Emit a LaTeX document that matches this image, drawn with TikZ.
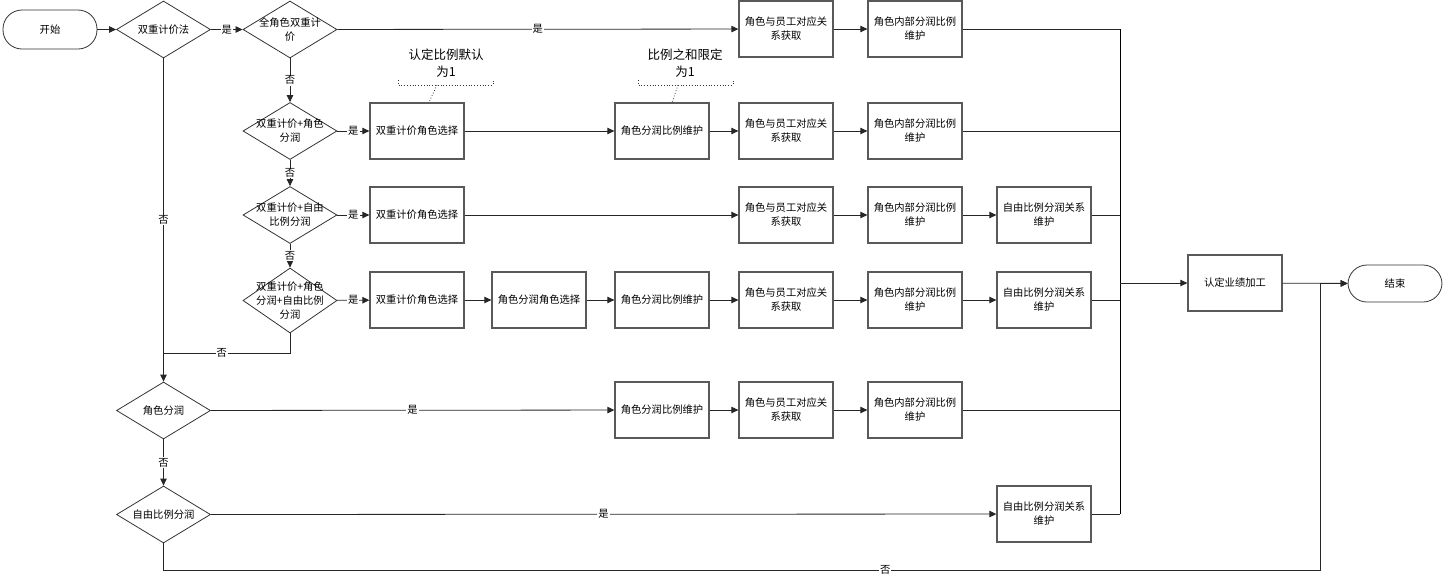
\documentclass[tikz,border=0pt]{standalone}
\usepackage{fontspec}
\setmainfont{Noto Sans CJK SC}
\usetikzlibrary{shapes.geometric,arrows.meta,calc}
\begin{document}
\begin{tikzpicture}[x=1pt,y=-1pt,
  every node/.style={font=\fontsize{10.3}{14}\selectfont},
  proc/.style={draw=black!65, line width=1.3pt, minimum width=94pt, minimum height=56pt, inner sep=0pt, align=center},
  dec/.style={diamond, draw=black!80, line width=0.8pt, minimum width=94pt, minimum height=57pt, inner sep=0pt, aspect=1.65},
  dtext/.style={align=center, inner sep=0pt},
  term/.style={draw=black!80, line width=0.8pt, rounded corners=19pt, minimum width=94pt, minimum height=39pt, inner sep=0pt},
  arr/.style={-{Triangle[length=7pt,width=6.5pt]}, line width=0.8pt, draw=black!85},
  ln/.style={line width=0.8pt, draw=black!85},
  lab/.style={fill=white, inner sep=1pt},
  note/.style={align=center, font=\fontsize{12.5}{17}\selectfont},
  brk/.style={dotted, line width=0.8pt, draw=black!80}
]
\useasboundingbox (0,0) rectangle (1446,582);

% terminals
\node[term] (start) at (50,29.5) {开始};
\node[term, minimum height=37pt] (endn) at (1395,283.5) {结束};

% decisions
\node[dec] (d1) at (163.5,29.5) {};
\node[dtext] at (d1) {双重计价法};
\node[dec] (d2) at (290,29.5) {};
\node[dtext] at (d2) {全角色双重计\\价};
\node[dec] (d3) at (290,131) {};
\node[dtext] at (d3) {双重计价+角色\\分润};
\node[dec] (d4) at (290,215) {};
\node[dtext] at (d4) {双重计价+自由\\比例分润};
\node[dec, minimum height=65pt] (d5) at (290,300.5) {};
\node[dtext] at (d5) {双重计价+角色\\分润+自由比例\\分润};
\node[dec] (d6) at (163.5,410.5) {};
\node[dtext] at (d6) {角色分润};
\node[dec] (d7) at (163.5,514.5) {};
\node[dtext] at (d7) {自由比例分润};

% row 1
\node[proc] (r1b1) at (786,29) {角色与员工对应关\\系获取};
\node[proc] (r1b2) at (915,29) {角色内部分润比例\\维护};
% row 2
\node[proc] (r2b1) at (417,131) {双重计价角色选择};
\node[proc] (r2b2) at (662,131) {角色分润比例维护};
\node[proc] (r2b3) at (786,131) {角色与员工对应关\\系获取};
\node[proc] (r2b4) at (915,131) {角色内部分润比例\\维护};
% row 3
\node[proc] (r3b1) at (417,215) {双重计价角色选择};
\node[proc] (r3b2) at (786,215) {角色与员工对应关\\系获取};
\node[proc] (r3b3) at (915,215) {角色内部分润比例\\维护};
\node[proc] (r3b4) at (1044,215) {自由比例分润关系\\维护};
% row 4
\node[proc] (r4b1) at (417,300) {双重计价角色选择};
\node[proc] (r4b2) at (539,300) {角色分润角色选择};
\node[proc] (r4b3) at (662,300) {角色分润比例维护};
\node[proc] (r4b4) at (786,300) {角色与员工对应关\\系获取};
\node[proc] (r4b5) at (915,300) {角色内部分润比例\\维护};
\node[proc] (r4b6) at (1044,300) {自由比例分润关系\\维护};
% row 5
\node[proc] (r5b1) at (662,410) {角色分润比例维护};
\node[proc] (r5b2) at (786,410) {角色与员工对应关\\系获取};
\node[proc] (r5b3) at (915,410) {角色内部分润比例\\维护};
% row 6
\node[proc] (r6b1) at (1044,514) {自由比例分润关系\\维护};

\node[proc] (ident) at (1235,283) {认定业绩加工};

% bus coordinates
\coordinate (bustop) at (1120,29);
\coordinate (busmid) at (1120,283);
\coordinate (busbot) at (1120,514);
\coordinate (j5) at (163.5,353);
\coordinate (c7) at (163.5,570);
\coordinate (nb) at (1320,570);

% annotations
\node[note] (n1) at (446,63) {认定比例默认\\为1};
\coordinate (n1l) at (398,80);
\coordinate (n1r) at (493,80);
\coordinate (n1c) at (437,85);
\node[note] (n2) at (685,63) {比例之和限定\\为1};
\coordinate (n2l) at (638,80);
\coordinate (n2r) at (733,80);
\coordinate (n2c) at (678,85);
\draw[brk] (n1l) -- ++(0,5) -- ($(n1r)+(0,5)$) -- (n1r);
\draw[brk] (n2l) -- ++(0,5) -- ($(n2r)+(0,5)$) -- (n2r);
\draw[brk] (n1c) -- (r2b1.north -| 429,0);
\draw[brk] (n2c) -- (r2b2.north -| 672,0);

% connectors
\draw[arr] (start) -- (d1);
\draw[arr] (d1) -- node[lab]{是} (d2);
\draw[arr] (d2) -- node[lab]{是} (r1b1);
\draw[arr] (r1b1) -- (r1b2);
\draw[ln] (r1b2) -- (bustop);

\draw[arr] (d2) -- node[lab]{否} (d3);
\draw[arr] (d3) -- node[lab]{是} (r2b1);
\draw[arr] (r2b1) -- (r2b2);
\draw[arr] (r2b2) -- (r2b3);
\draw[arr] (r2b3) -- (r2b4);
\draw[ln] (r2b4) -- (r2b4 -| bustop);

\draw[arr] (d3) -- node[lab]{否} (d4);
\draw[arr] (d4) -- node[lab]{是} (r3b1);
\draw[arr] (r3b1) -- (r3b2);
\draw[arr] (r3b2) -- (r3b3);
\draw[arr] (r3b3) -- (r3b4);
\draw[ln] (r3b4) -- (r3b4 -| bustop);

\draw[arr] (d4) -- node[lab]{否} (d5);
\draw[arr] (d5) -- node[lab]{是} (r4b1);
\draw[arr] (r4b1) -- (r4b2);
\draw[arr] (r4b2) -- (r4b3);
\draw[arr] (r4b3) -- (r4b4);
\draw[arr] (r4b4) -- (r4b5);
\draw[arr] (r4b5) -- (r4b6);
\draw[ln] (r4b6) -- (r4b6 -| bustop);

\draw[ln] (d5.south) |- node[lab, pos=0.77]{否} (j5);
\draw[arr] (d1) -- node[lab]{否} (d6);
\draw[arr] (d6) -- node[lab]{是} (r5b1);
\draw[arr] (r5b1) -- (r5b2);
\draw[arr] (r5b2) -- (r5b3);
\draw[ln] (r5b3) -- (r5b3 -| bustop);

\draw[arr] (d6) -- node[lab]{否} (d7);
\draw[arr] (d7) -- node[lab]{是} (r6b1);
\draw[ln] (r6b1) -- (busbot);

\draw[line width=1pt] (bustop) -- (busbot);
\draw[arr, line width=1pt] (busmid) -- (ident);
\draw[arr] (ident) -- (endn);
\draw[arr] (d7.south) -- (c7) -- node[lab, pos=0.624]{否} (nb) -- (nb |- endn.west) -- (endn.west);
\end{tikzpicture}
\end{document}
